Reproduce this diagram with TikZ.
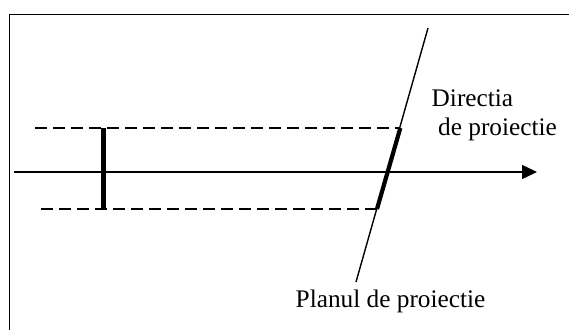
\documentclass[tikz,border=0pt]{standalone}
\usepackage{fontspec}
\setmainfont{Liberation Serif}
\usetikzlibrary{arrows.meta}
\begin{document}
\begin{tikzpicture}[x=1pt,y=-1pt,
  thin line/.style={line width=1.4pt},
  thick seg/.style={line width=4.2pt},
  dash line/.style={line width=1.4pt,dash pattern=on 12pt off 6pt},
  label text/.style={anchor=base west,inner sep=0pt,font=\fontsize{25.3}{30}\selectfont}]
\useasboundingbox (0,0) rectangle (569,329);
\clip (0,0) rectangle (569,329);
% frame
\coordinate (fbl) at (9.5,340);
\coordinate (ftl) at (9.5,14.5);
\coordinate (ftr) at (580,14.5);
\draw[line width=1.8pt] (fbl) -- (ftl) -- (ftr);
% axis arrow
\coordinate (as) at (14,172);
\coordinate (ae) at (537,172);
\draw[thin line,-{Triangle[length=15pt,width=14pt]}] (as) -- (ae);
% plane line
\coordinate (pt) at (428,28);
\coordinate (pb) at (356,282);
\draw[thin line] (pt) -- (pb);
% projected segment endpoints
\coordinate (qt) at (400.3,128);
\coordinate (qb) at (377,209);
\draw[thick seg] (qt) -- (qb);
% original segment
\coordinate (ot) at (103.5,128);
\coordinate (ob) at (103.5,209);
\draw[thick seg] (ot) -- (ob);
% dashed projection lines
\coordinate (dt) at (35,128);
\coordinate (db) at (41,209);
\draw[dash line] (dt) -- (qt);
\draw[dash line] (db) -- (qb);
% labels
\node[label text] (dir1) at (431.5,106.5) {Directia};
\node[label text] (dir2) at (438,135.5) {de proiectie};
\node[label text] (plan) at (295.5,307.5) {Planul de proiectie};
\end{tikzpicture}
\end{document}
